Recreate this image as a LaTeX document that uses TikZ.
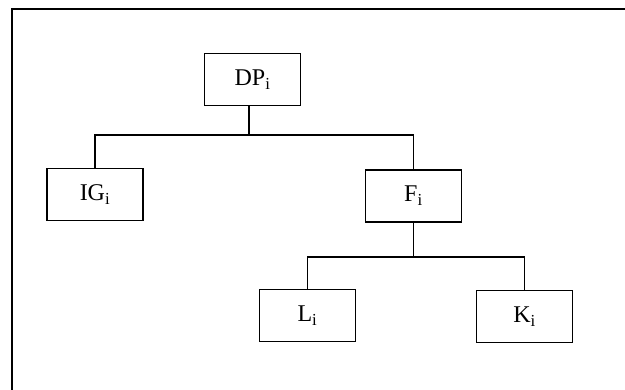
\documentclass[tikz,border=0pt]{standalone}
\usepackage{fontspec}
\setmainfont{Liberation Serif}
\begin{document}
\begin{tikzpicture}[x=1pt,y=-1pt,
  box/.style={draw,line width=1.6pt,minimum width=96pt,minimum height=52pt,inner sep=0pt,font=\fontsize{24}{26}\selectfont},
  conn/.style={line width=1.5pt}]
\useasboundingbox (0,0) rectangle (625,390);
\draw[line width=2.4pt] (625,9) -- (12,9) -- (12,390);
\node[box] (DP) at (252.5,79.5) {DP\textsubscript{i}};
\node[box] (IG) at (95,194.5) {IG\textsubscript{i}};
\node[box] (F) at (413.5,196) {F\textsubscript{i}};
\node[box] (L) at (307.5,315.5) {L\textsubscript{i}};
\node[box] (K) at (524.5,316.5) {K\textsubscript{i}};
\coordinate (b1) at (249,135);
\coordinate (b2) at (415,257);
\draw[conn] ([xshift=-3.5pt]DP.south) -- (b1);
\draw[conn] (IG.north) |- (b1) -| (F.north);
\draw[conn] (F.south) -- (F.south |- b2);
\draw[conn] (L.north) |- (b2) -| (K.north);
\end{tikzpicture}
\end{document}
